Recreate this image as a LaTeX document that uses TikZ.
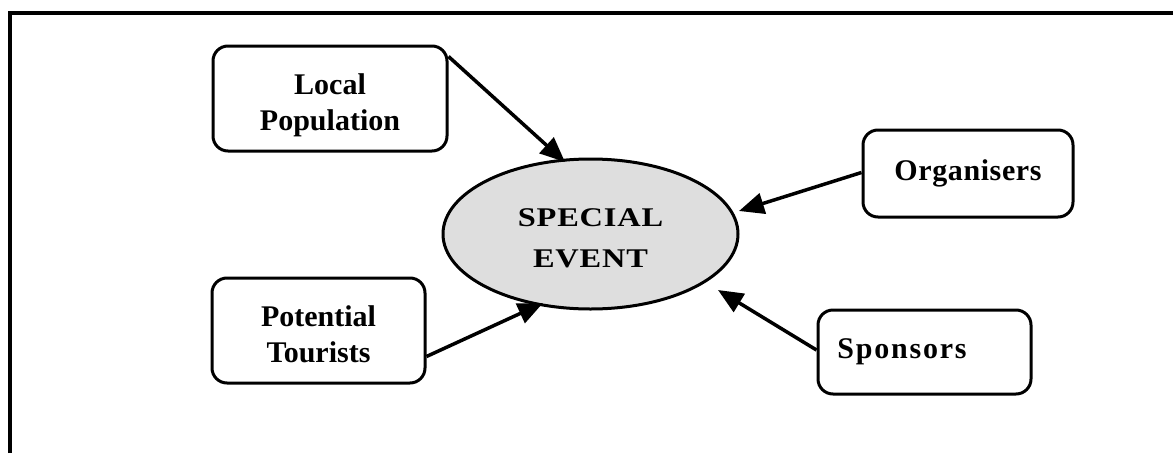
\documentclass[tikz,border=0pt]{standalone}
\usepackage{fontspec}
\setmainfont{Liberation Serif}
\usetikzlibrary{arrows.meta,shapes.geometric}

% stacked lines, lowered inside their node without changing its size
\newcommand\lowerstack[2]{%
  \raisebox{-#1}[\height][\depth]{\begin{tabular}{@{}c@{}}#2\end{tabular}}}

\tikzset{
  party/.style={draw, line width=3pt, rounded corners=15pt, inner sep=0pt,
    font=\fontsize{30}{36.5}\selectfont\bfseries},
  hub/.style={ellipse, draw, line width=3pt, fill=black!13, inner sep=0pt,
    minimum width=295pt, minimum height=150pt,
    font=\fontsize{27}{41}\selectfont\bfseries\addfontfeature{FakeStretch=1.2,LetterSpace=3}},
  feed/.style={line width=3.5pt, -{Triangle[length=25pt,width=21pt]}},
  frame/.style={line width=4.5pt}
}

\begin{document}
\begin{tikzpicture}[x=1pt, y=-1pt]
  \useasboundingbox (0,0) rectangle (1173,453);

  % open frame along the top and left edges
  \coordinate (fb) at (10,453);
  \coordinate (fc) at (10,13);
  \coordinate (fr) at (1173,13);
  \draw[frame] (fb) -- (fc) -- (fr);

  % the event in the middle
  \node[hub] (ev) at (590.5,234) {\lowerstack{4.3pt}{SPECIAL\\EVENT}};

  % stakeholders
  \node[party, minimum width=234pt, minimum height=105pt]
    (lp) at (330,98.5) {\lowerstack{6.5pt}{Local\\Population}};
  \node[party, minimum width=213pt, minimum height=105pt]
    (pt) at (318.5,330.5) {\lowerstack{6.5pt}{Potential\\Tourists}};
  \node[party, minimum width=210pt, minimum height=87pt] (og) at (968,173.5)
    {\addfontfeature{LetterSpace=2}Organisers};
  \node[party, minimum width=213pt, minimum height=84pt] (sp) at (924.5,352)
    {\hspace*{-45pt}\addfontfeature{LetterSpace=6}Sponsors};

  % arrow tips around the event
  \coordinate (tlp) at (565,162);
  \coordinate (tpt) at (543,303);
  \coordinate (tog) at (739,211);
  \coordinate (tsp) at (718,290);

  \draw[feed] ([yshift=-12pt]lp.north east) -- (tlp);
  \draw[feed] ([yshift=-26pt]pt.east) -- (tpt);
  \draw[feed] ([yshift=1pt]og.west) -- (tog);
  \draw[feed] ([yshift=2pt]sp.west) -- (tsp);
\end{tikzpicture}
\end{document}
